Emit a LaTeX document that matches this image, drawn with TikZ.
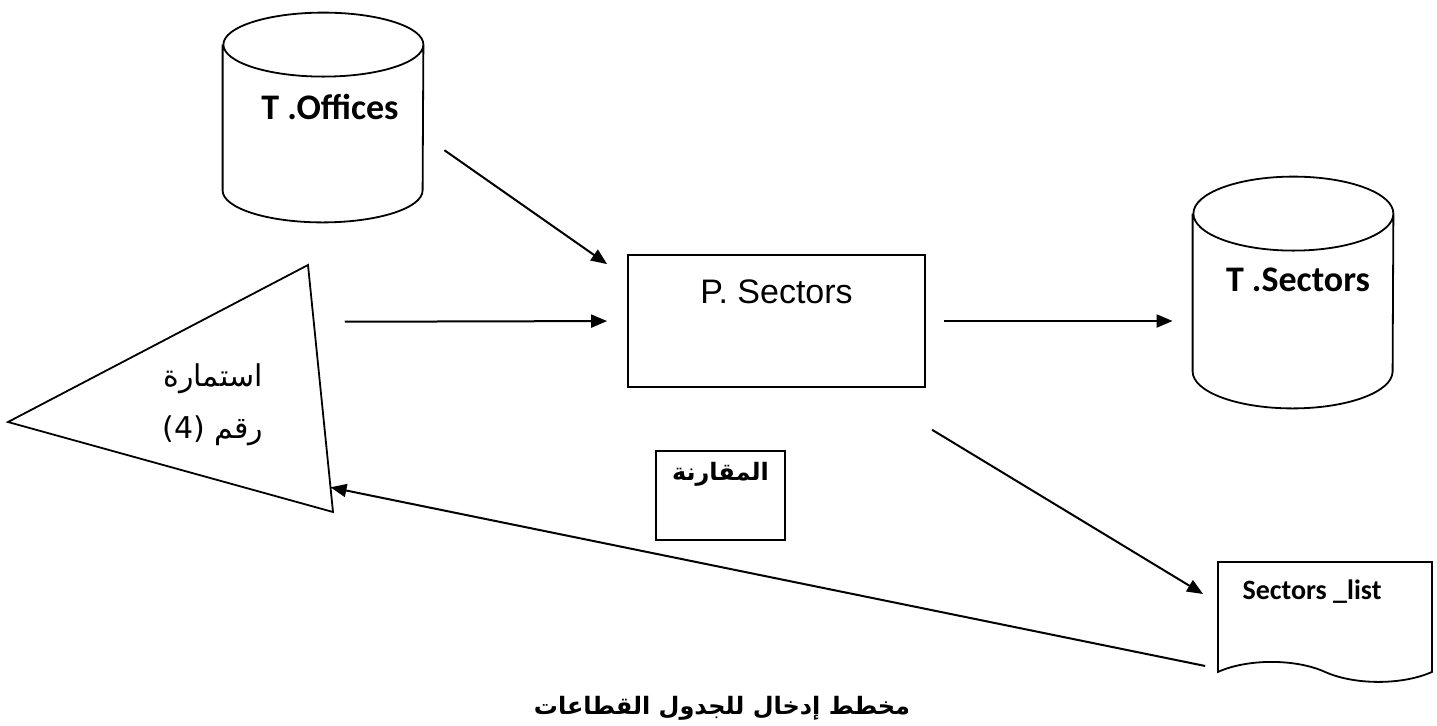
\documentclass[tikz,border=0pt]{standalone}
\usepackage{fontspec}
\usepackage{tikz}
\usetikzlibrary{shapes.symbols,arrows.meta,calc}
\newfontfamily\calibri{Carlito}
\newfontfamily\arial{Liberation Sans}
\newfontfamily\arabicfont[Script=Arabic]{DejaVu Sans}
\TeXXeTstate=1

% outline of a table drawn round a named node: #1 node, #2 radius of the ends
\newcommand\drawdb[2]{%
  \draw[line width=0.9pt] ([yshift=-#2]#1.north west) -- ([yshift=#2]#1.south west)
    arc[start angle=180,end angle=360,x radius=50pt,y radius=#2]
    -- ([yshift=-#2]#1.north east)
    arc[start angle=0,end angle=360,x radius=50pt,y radius=#2];}

\tikzset{
  database/.style={rectangle,minimum width=100pt,inner sep=0pt},
  process/.style={draw,line width=0.9pt,rectangle,inner sep=0pt},
  document/.style={draw,line width=0.9pt,tape,tape bend top=none,
    tape bend bottom=out and in,tape bend height=10pt,minimum width=107pt,inner sep=0pt},
  flow/.style={line width=1pt,-{Triangle[length=8pt,width=6.5pt]}},
  tname/.style={font=\calibri\bfseries\fontsize{18}{20}\selectfont},
}

\begin{document}
\begin{tikzpicture}[x=0.5pt,y=-0.5pt]
  \useasboundingbox (0,0) rectangle (1437,725);

  % tables
  \node[database,minimum height=104.5pt,label={[tname,xshift=3.5pt,yshift=5.25pt]center:T .Offices}]
    (TOff) at (323,117.5) {};
  \drawdb{TOff}{16pt}
  \node[database,minimum height=115.5pt,label={[tname,xshift=2.5pt,yshift=6.25pt]center:T .Sectors}]
    (TSec) at (1293,292.5) {};
  \drawdb{TSec}{18.5pt}

  % process
  \node[process,minimum width=148.5pt,minimum height=66pt,
    label={[font=\arial\fontsize{17}{20}\selectfont,yshift=14.5pt]center:P. Sectors}]
    (PSec) at (776.5,321) {};
  \node[process,minimum width=64.5pt,minimum height=44.5pt,
    label={[font=\arabicfont\bfseries\fontsize{12}{14}\selectfont,yshift=10.5pt]center:\beginR المقارنة\endR}]
    (Cmp) at (720.5,495.5) {};

  % report
  \node[document,minimum height=60pt,anchor=north,
    label={[font=\calibri\bfseries\fontsize{14}{16}\selectfont,anchor=center,
      xshift=-6.5pt,yshift=-15.5pt]north:Sectors \_list}]
    (SList) at (1325,561) {};

  % input form
  \coordinate (FA) at (8,422);
  \coordinate (FB) at (308,265);
  \coordinate (FC) at (333,512);
  \draw[line width=0.9pt] (FA) -- (FB) -- (FC) -- cycle;
  \node[align=center,font=\arabicfont\fontsize{15}{26}\selectfont] (Form) at (213,405)
    {\beginR استمارة\endR\\\beginR رقم \beginL(4)\endL\endR};

  % flows
  \draw[flow,shorten <=12.8pt,shorten >=12.2pt] ([yshift=-9pt]TOff.east) -- ([yshift=-12pt]PSec.north west);
  \draw[flow,shorten <=15.5pt,shorten >=10pt] ($(FB)!0.23!(FC)$) -- (PSec.west);
  \draw[flow,shorten <=9pt,shorten >=10pt] (PSec.east) -- (PSec.east -| TSec.west);
  \draw[flow,shorten <=40.4pt,shorten >=8.2pt] ([xshift=43.25pt]PSec.south) -- ([yshift=-20.75pt]SList.north west);
  \draw[flow,shorten <=6.1pt] ([yshift=-53.7pt]SList.north west) -- ($(FB)!0.9!(FC)$);

  \node[font=\arabicfont\bfseries\fontsize{12}{14}\selectfont] (Ttl) at (722,708)
    {\beginR مخطط إدخال للجدول القطاعات\endR};
\end{tikzpicture}
\end{document}
